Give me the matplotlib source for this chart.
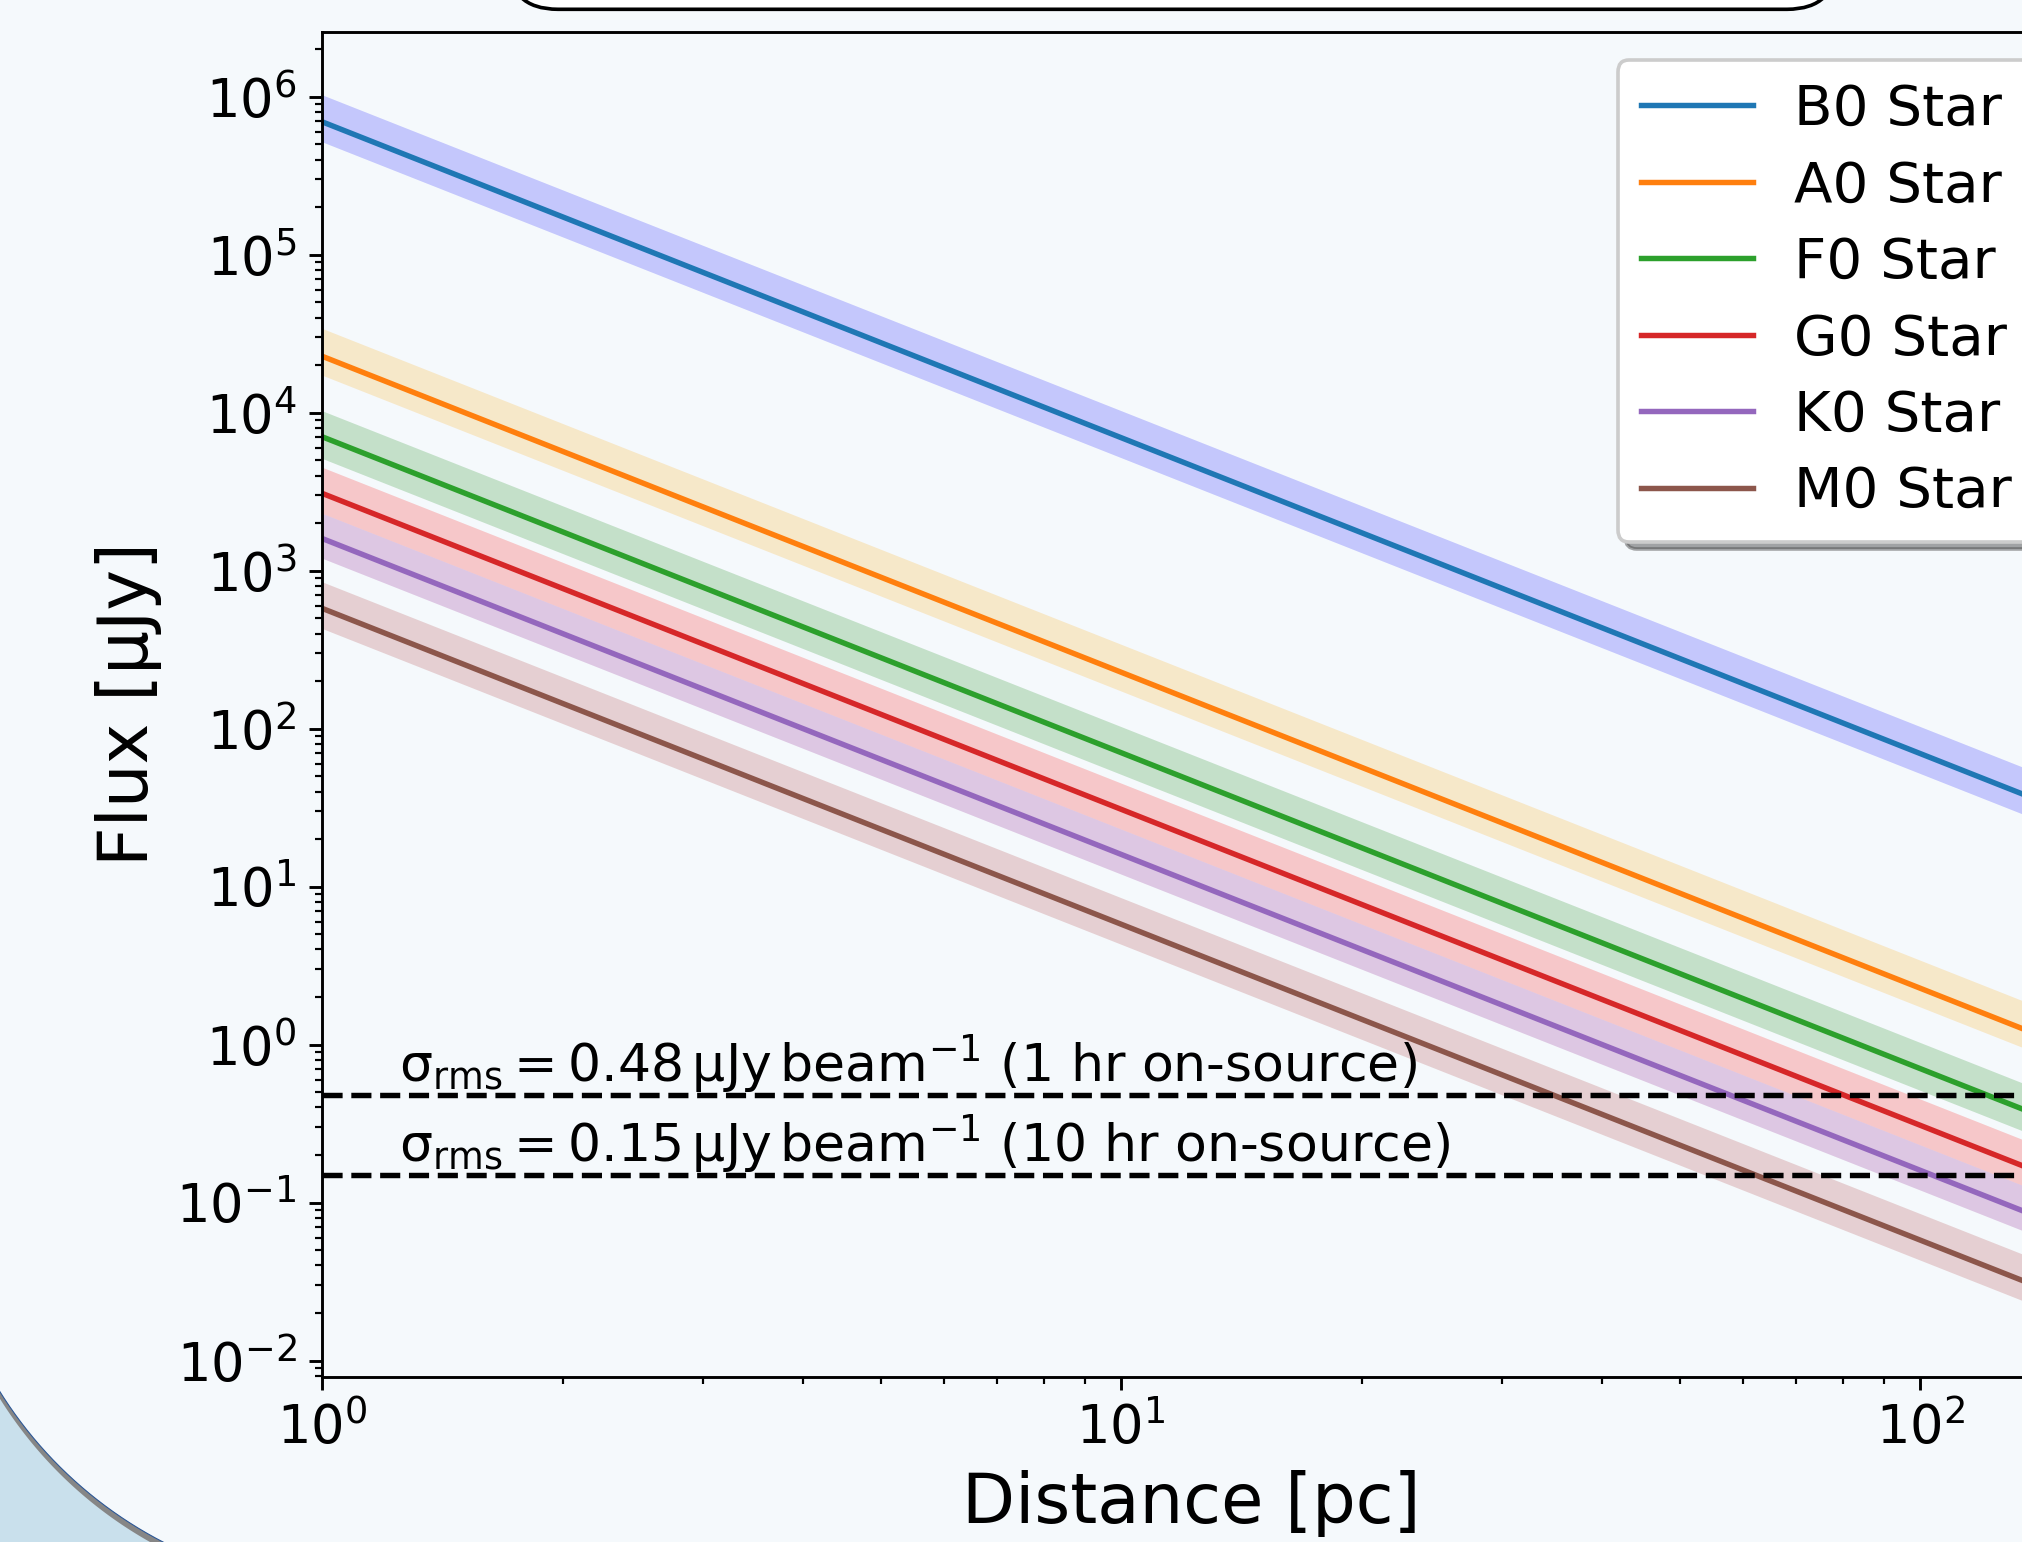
import numpy as np
import matplotlib
matplotlib.use('Agg')
import matplotlib.pyplot as plt
from matplotlib.patches import FancyBboxPatch, Polygon
from matplotlib.lines import Line2D
from matplotlib.transforms import IdentityTransform

# --- data ---
stars = ['B0 Star', 'A0 Star', 'F0 Star', 'G0 Star', 'K0 Star', 'M0 Star']
line_colors = ['C0', 'C1', 'C2', 'C3', 'C4', 'C5']
band_colors = ['blue', 'orange', 'green', 'red', 'purple', 'brown']

distance = [1, 150]  # pc, ends of each line

# flux [uJy] at 1 pc and at 150 pc
flux_mid = [[6.95e5, 30.9], [2.28e4, 1.01], [7.05e3, 0.313],
            [3.09e3, 0.137], [1.60e3, 0.0711], [578, 0.0257]]
flux_lo = [[5.19e5, 23.1], [1.73e4, 0.769], [5.14e3, 0.228],
           [2.31e3, 0.103], [1.20e3, 0.0533], [431, 0.0192]]
flux_hi = [[1.03e6, 45.8], [3.42e4, 1.52], [1.03e4, 0.458],
           [4.52e3, 0.201], [2.31e3, 0.103], [851, 0.0378]]

rms_levels = [0.48, 0.15]
rms_labels = [r'$\mathrm{\sigma_{rms}} = 0.48\,\mathrm{\mu Jy\,beam^{-1}}$ (1 hr on-source)',
              r'$\mathrm{\sigma_{rms}} = 0.15\,\mathrm{\mu Jy\,beam^{-1}}$ (10 hr on-source)']

bg = '#f5f9fc'
W, H, dpi = 2022, 1542, 261

fig = plt.figure(figsize=(W / dpi, H / dpi), dpi=dpi, facecolor=bg)
ax = fig.add_axes([322 / W, 1 - 1376.7 / H, (2061 - 322) / W, (1376.7 - 32.3) / H])
ax.set_facecolor(bg)

for name, lc, bc, mid, lo, hi in zip(stars, line_colors, band_colors,
                                     flux_mid, flux_lo, flux_hi):
    ax.plot(distance, mid, color=lc, label=name)
    ax.fill_between(distance, lo, hi, color=bc, alpha=0.2, lw=0)

for lev, lab in zip(rms_levels, rms_labels):
    ax.axhline(lev, color='k', ls='--')
    ax.text(1.25, lev, lab, fontsize=14.4, va='bottom', ha='left')

ax.set_xscale('log')
ax.set_yscale('log')
ax.set_xlim(1, 150)
ax.set_ylim(7.9e-3, 2.56e6)
ax.tick_params(labelsize=14.5)
ax.set_xlabel('Distance [pc]', fontsize=19)
ax.set_ylabel('Flux [μJy]', fontsize=19)
ax.legend(loc='upper right', bbox_to_anchor=(1 + 1 / 1739, 1),
          shadow=True, facecolor='white', framealpha=1,
          fontsize=15.5, labelspacing=0.4, handletextpad=0.72)

# --- slide decorations around the pasted plot (pixel coordinates) ---
tr = IdentityTransform()
box = FancyBboxPatch((508, H - 9.3), 1837 - 508, 200,
                     boxstyle='round,pad=0,rounding_size=50', transform=tr,
                     fc='white', ec='black', lw=1.0, zorder=-1)
fig.add_artist(box)

cx, cy, R = 356, 373, 420
th = np.linspace(np.pi, 1.5 * np.pi, 200)
arc = np.column_stack([cx + R * np.cos(th), cy + R * np.sin(th)])
corner = np.vstack([[[-100, cy]], arc, [[cx, -100], [-100, -100]]])
fig.add_artist(Polygon(corner, closed=True, transform=tr, fc='#c9e0ec',
                       ec='none', zorder=-5))
shadow = np.vstack([arc + [0, -7], arc[::-1]])
fig.add_artist(Polygon(shadow, closed=True, transform=tr, fc='#868686',
                       ec='none', zorder=-4))
fig.add_artist(Line2D(arc[:, 0], arc[:, 1], transform=tr, color='#2b5797',
                      lw=0.3, zorder=-3))

fig.savefig('out.png', dpi=dpi, facecolor=bg)
